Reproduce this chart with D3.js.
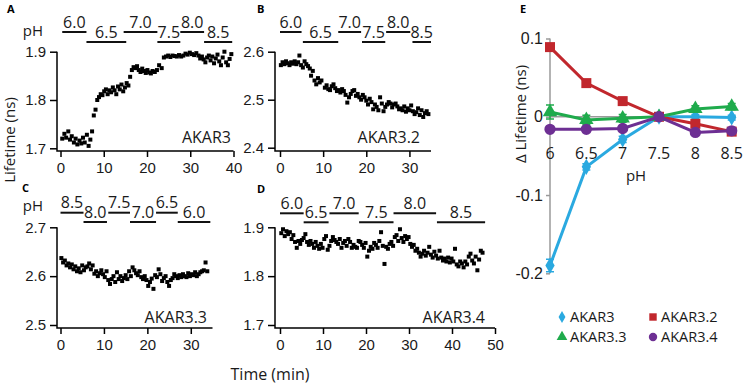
<!DOCTYPE html>
<html lang="en">
<head>
<meta charset="UTF-8">
<title>AKAR lifetime vs pH</title>
<script src="https://d3js.org/d3.v7.min.js"></script>
<style>
  body { margin: 0; background: #fff; }
  svg { display: block; font-family: "Open Sans", "DejaVu Sans", sans-serif; }
  .tick text { font-size: 15px; fill: #1a1a1a; }
  .tick line { stroke: #000; stroke-width: 1.5; }
  .gray .tick line { stroke: #9a9a9a; }
</style>
</head>
<body>
<svg id="fig" width="744" height="386"></svg>
<script>
// ---- time courses, [time (min), lifetime (ns)] ----
const traceAKAR3 = [
  [0.4,1.72],[0.9,1.73],[1.3,1.722],[1.8,1.735],[2.2,1.718],[2.6,1.725],[3.1,1.712],[3.5,1.72],[3.9,1.708],
  [4.4,1.716],[4.8,1.71],[5.2,1.722],[5.6,1.712],[6.1,1.728],[6.5,1.705],[6.9,1.718],[7.3,1.735],[7.7,1.768],
  [8.1,1.78],[8.5,1.8],[8.9,1.806],[9.3,1.812],[9.7,1.81],[10.1,1.818],[10.5,1.822],[10.9,1.812],[11.3,1.82],
  [11.7,1.816],[12.1,1.826],[12.5,1.82],[12.9,1.812],[13.3,1.828],[13.7,1.822],[14.1,1.832],[14.5,1.818],
  [14.9,1.826],[15.3,1.835],[15.7,1.83],[16.1,1.848],[16.5,1.862],[16.9,1.868],[17.3,1.866],[17.7,1.87],
  [18.1,1.862],[18.5,1.858],[18.9,1.865],[19.3,1.86],[19.7,1.856],[20.1,1.862],[20.5,1.857],[20.9,1.855],
  [21.3,1.86],[21.8,1.858],[22.3,1.862],[22.8,1.872],[23.4,1.866],[23.9,1.888],[24.4,1.89],[24.9,1.892],
  [25.4,1.889],[25.9,1.892],[26.4,1.891],[26.9,1.89],[27.4,1.893],[27.9,1.89],[28.4,1.892],[28.9,1.896],
  [29.4,1.894],[29.9,1.898],[30.4,1.895],[30.9,1.893],[31.4,1.897],[31.9,1.892],[32.3,1.886],[32.7,1.89],
  [33.1,1.884],[33.5,1.878],[33.9,1.888],[34.3,1.892],[34.7,1.882],[35.1,1.89],[35.5,1.876],[35.9,1.886],
  [36.3,1.894],[36.7,1.88],[37.1,1.872],[37.5,1.888],[37.9,1.9],[38.3,1.878],[38.7,1.872],[39.1,1.885],[39.5,1.895]
];
const traceAKAR32 = [
  [0.2,2.572],[0.6,2.578],[1.0,2.574],[1.4,2.58],[1.8,2.576],[2.2,2.572],[2.6,2.578],[3.0,2.575],[3.4,2.58],
  [3.8,2.574],[4.2,2.578],[4.5,2.592],[4.9,2.572],[5.3,2.567],[5.7,2.58],[6.1,2.574],[6.5,2.57],[6.9,2.565],
  [7.2,2.55],[7.6,2.56],[8.0,2.54],[8.4,2.532],[8.8,2.545],[9.2,2.536],[9.6,2.54],[10.4,2.525],[10.8,2.53],
  [11.2,2.522],[11.6,2.52],[12.0,2.528],[12.4,2.532],[12.8,2.524],[13.2,2.518],[13.6,2.52],[14.0,2.515],
  [14.4,2.522],[14.8,2.518],[15.2,2.51],[15.6,2.494],[16.0,2.505],[16.4,2.512],[16.8,2.518],[17.2,2.52],
  [17.6,2.508],[18.0,2.512],[18.4,2.505],[18.8,2.5],[19.2,2.51],[19.6,2.505],[20.0,2.498],[20.4,2.49],
  [20.8,2.502],[21.2,2.495],[21.6,2.48],[22.0,2.49],[22.4,2.485],[22.8,2.478],[23.2,2.505],[23.6,2.492],
  [24.0,2.476],[24.4,2.485],[24.8,2.49],[25.2,2.495],[25.6,2.492],[26.0,2.484],[26.4,2.49],[26.8,2.492],
  [27.2,2.486],[27.6,2.48],[28.0,2.482],[28.4,2.478],[28.8,2.486],[29.2,2.475],[29.6,2.482],[30.0,2.478],
  [30.4,2.488],[30.8,2.476],[31.2,2.47],[31.6,2.474],[32.0,2.482],[32.4,2.468],[32.8,2.478],[33.2,2.464],
  [33.6,2.472],[34.0,2.476],[34.4,2.47]
];
const traceAKAR33 = [
  [0.2,2.637],[0.6,2.628],[1.0,2.632],[1.4,2.622],[1.8,2.626],[2.2,2.618],[2.6,2.624],[3.0,2.614],[3.4,2.62],
  [3.8,2.61],[4.2,2.616],[4.6,2.608],[5.0,2.622],[5.4,2.612],[5.8,2.618],[6.2,2.62],[6.6,2.626],[7.0,2.614],
  [7.4,2.622],[7.8,2.605],[8.2,2.61],[8.6,2.6],[9.0,2.606],[9.4,2.612],[9.8,2.604],[10.2,2.598],[10.6,2.61],
  [11.0,2.592],[11.4,2.584],[11.8,2.594],[12.2,2.6],[12.6,2.588],[13.0,2.608],[13.4,2.594],[13.8,2.6],
  [14.2,2.59],[14.6,2.596],[15.0,2.602],[15.4,2.594],[15.8,2.61],[16.2,2.6],[16.6,2.618],[17.0,2.612],
  [17.4,2.606],[17.8,2.602],[18.2,2.61],[18.6,2.598],[19.0,2.594],[19.4,2.6],[19.8,2.592],[20.2,2.58],
  [20.6,2.588],[21.0,2.595],[21.4,2.574],[21.8,2.602],[22.2,2.598],[22.6,2.614],[23.0,2.604],[23.4,2.59],
  [23.8,2.596],[24.2,2.6],[24.6,2.588],[25.0,2.58],[25.4,2.592],[25.8,2.596],[26.2,2.604],[26.6,2.6],
  [27.0,2.596],[27.4,2.602],[27.8,2.598],[28.2,2.604],[28.6,2.6],[29.0,2.598],[29.4,2.606],[29.8,2.6],
  [30.2,2.604],[30.6,2.602],[31.0,2.608],[31.4,2.6],[31.8,2.604],[32.2,2.608],[32.6,2.61],[33.0,2.612],
  [33.4,2.628],[33.8,2.61]
];
const traceAKAR34 = [
  [0.3,1.888],[0.7,1.896],[1.1,1.882],[1.5,1.892],[1.9,1.886],[2.3,1.89],[2.7,1.876],[3.1,1.884],[3.5,1.87],
  [3.9,1.858],[4.3,1.872],[4.7,1.866],[5.1,1.874],[5.5,1.878],[5.9,1.886],[6.3,1.87],[6.7,1.864],[7.1,1.872],
  [7.5,1.866],[7.9,1.858],[8.3,1.87],[8.7,1.862],[9.1,1.856],[9.5,1.866],[9.9,1.858],[10.3,1.876],[10.7,1.882],
  [11.1,1.854],[11.5,1.862],[11.9,1.872],[12.3,1.88],[12.7,1.874],[13.1,1.87],[13.5,1.866],[13.9,1.876],
  [14.3,1.858],[14.7,1.868],[15.1,1.872],[15.5,1.862],[15.9,1.876],[16.3,1.87],[16.7,1.858],[17.1,1.864],
  [17.5,1.86],[17.9,1.858],[18.3,1.872],[18.7,1.87],[19.1,1.864],[19.5,1.858],[19.9,1.868],[20.3,1.84],
  [20.7,1.852],[21.1,1.86],[21.5,1.856],[21.9,1.868],[22.3,1.864],[22.7,1.858],[23.1,1.872],[23.5,1.89],
  [23.9,1.862],[24.3,1.825],[24.7,1.86],[25.1,1.856],[25.5,1.866],[25.9,1.87],[26.3,1.862],[26.7,1.88],
  [27.1,1.884],[27.5,1.872],[27.9,1.896],[28.3,1.878],[28.7,1.87],[29.1,1.882],[29.5,1.876],[29.9,1.88],
  [30.3,1.866],[30.7,1.86],[31.1,1.864],[31.5,1.852],[31.9,1.856],[32.3,1.848],[32.7,1.84],[33.1,1.846],
  [33.5,1.852],[33.9,1.842],[34.3,1.848],[34.7,1.86],[35.1,1.844],[35.5,1.838],[35.9,1.85],[36.3,1.842],
  [36.7,1.836],[37.1,1.852],[37.5,1.838],[37.9,1.832],[38.3,1.836],[38.7,1.83],[39.1,1.838],[39.5,1.828],
  [39.9,1.836],[40.3,1.83],[40.7,1.856],[41.1,1.824],[41.5,1.82],[41.9,1.83],[42.3,1.826],[42.7,1.818],
  [43.1,1.83],[43.5,1.824],[43.9,1.84],[44.3,1.846],[44.7,1.832],[45.1,1.826],[45.5,1.84],[45.9,1.812],
  [46.3,1.834],[46.7,1.852],[47.1,1.848]
];

// ---- pH perfusion periods (label, start min, end min) ----
const phLabelsA = ["6.0", "6.5", "7.0", "7.5", "8.0", "8.5"];
const phStartA  = [0.4, 6.0, 14.6, 22.4, 27.7, 33.2];
const phEndA    = [6.0, 15.2, 22.4, 27.7, 33.2, 39.7];
const phLabelsB = ["6.0", "6.5", "7.0", "7.5", "8.0", "8.5"];
const phStartB  = [0.0, 5.3, 13.5, 19.0, 24.6, 30.7];
const phEndB    = [5.0, 13.5, 18.8, 24.4, 30.2, 35.0];
const phLabelsC = ["8.5", "8.0", "7.5", "7.0", "6.5", "6.0"];
const phStartC  = [0.0, 5.3, 11.0, 16.0, 22.0, 27.0];
const phEndC    = [5.3, 10.7, 16.0, 22.0, 27.0, 34.5];
const phLabelsD = ["6.0", "6.5", "7.0", "7.5", "8.0", "8.5"];
const phStartD  = [0.0, 5.5, 11.5, 18.4, 26.4, 36.5];
const phEndD    = [5.5, 11.3, 18.3, 26.4, 36.3, 47.7];

// ---- panel E: change in lifetime vs pH ----
const phValues = [6, 6.5, 7, 7.5, 8, 8.5];
const sensorNames = ["AKAR3", "AKAR3.2", "AKAR3.3", "AKAR3.4"];
const dAKAR3  = [-0.19, -0.064, -0.029, 0, 0, -0.001];
const dAKAR32 = [0.089, 0.043, 0.02, 0, -0.009, -0.019];
const dAKAR33 = [0.006, -0.004, -0.002, 0, 0.01, 0.013];
const dAKAR34 = [-0.016, -0.016, -0.015, 0, -0.02, -0.018];
const eAKAR3  = [0.008, 0.004, 0.004, 0, 0.003, 0.003];
const eAKAR32 = [0.004, 0.004, 0.003, 0, 0.003, 0.003];
const eAKAR33 = [0.009, 0.006, 0.005, 0, 0.004, 0.004];
const eAKAR34 = [0.003, 0.003, 0.003, 0, 0.003, 0.003];

const svg = d3.select("#fig");
const fmt1 = d3.format(".1f");
const ink = "#1a1a1a";

// layout of the four time-course panels
const panels = [
  {letter: "A", lx: 7, ly: 13, data: traceAKAR3, name: "AKAR3",
   ph: [phLabelsA, phStartA, phEndA], barY: [32, 42], pH: 36,
   xr: [60.5, 233.5], xd: [0, 40], xt: [0, 10, 20, 30, 40], axX: 57, axY: 151,
   yd: [1.7, 1.9], yr: [148.3, 51.7], nameAt: [231, 143]},
  {letter: "B", lx: 257, ly: 13, data: traceAKAR32, name: "AKAR3.2",
   ph: [phLabelsB, phStartB, phEndB], barY: [32, 42], pH: null,
   xr: [280, 431], xd: [0, 35], xt: [0, 10, 20, 30], axX: 275, axY: 151,
   yd: [2.4, 2.6], yr: [147.7, 51.7], nameAt: [420, 143]},
  {letter: "C", lx: 22, ly: 192, data: traceAKAR33, name: "AKAR3.3",
   ph: [phLabelsC, phStartC, phEndC], barY: [212.7, 222], pH: 211,
   xr: [60.5, 212.5], xd: [0, 35], xt: [0, 10, 20, 30], axX: 57, axY: 328,
   yd: [2.5, 2.7], yr: [325, 227.3], nameAt: [207, 323]},
  {letter: "D", lx: 257, ly: 193, data: traceAKAR34, name: "AKAR3.4",
   ph: [phLabelsD, phStartD, phEndD], barY: [213.3, 222.3], pH: null,
   xr: [280, 495], xd: [0, 50], xt: [0, 10, 20, 30, 40, 50], axX: 275, axY: 328,
   yd: [1.7, 1.9], yr: [325, 227.3], nameAt: [485, 323]}
];

panels.forEach(p => {
  const g = svg.append("g");
  const x = d3.scaleLinear().domain(p.xd).range(p.xr);
  const y = d3.scaleLinear().domain(p.yd).range(p.yr);

  g.append("text").attr("x", p.lx).attr("y", p.ly)
    .attr("font-size", 11).attr("font-weight", "bold").text(p.letter);

  // axes
  g.append("g").attr("transform", `translate(0,${p.axY})`)
    .call(d3.axisBottom(x).tickValues(p.xt).tickSize(6).tickPadding(5).tickSizeOuter(0))
    .call(a => a.select(".domain").remove());
  g.append("g").attr("transform", `translate(${p.axX},0)`)
    .call(d3.axisLeft(y).tickValues(d3.range(3).map(i => p.yd[0] + i * 0.1))
      .tickFormat(fmt1).tickSize(7).tickPadding(4).tickSizeOuter(0))
    .call(a => a.select(".domain").remove());
  g.append("path")
    .attr("d", `M${p.axX},${p.yr[1]}V${p.axY}H${p.xr[1]}`)
    .attr("fill", "none").attr("stroke", "#000").attr("stroke-width", 1.5);

  // points
  g.append("g").selectAll("rect").data(p.data).join("rect")
    .attr("x", d => x(d[0]) - 2).attr("y", d => y(d[1]) - 2)
    .attr("width", 4).attr("height", 4).attr("fill", "#000");

  // sensor name
  g.append("text").attr("x", p.nameAt[0]).attr("y", p.nameAt[1])
    .attr("text-anchor", "end").attr("font-size", 16).attr("fill", ink).text(p.name);

  // pH perfusion bars
  const [labs, st, en] = p.ph;
  labs.forEach((lab, i) => {
    const by = p.barY[i % 2];
    g.append("line").attr("x1", x(st[i])).attr("x2", x(en[i]))
      .attr("y1", by).attr("y2", by).attr("stroke", "#111").attr("stroke-width", 2);
    g.append("text").attr("x", (x(st[i]) + x(en[i])) / 2).attr("y", by - 4.5)
      .attr("text-anchor", "middle").attr("font-size", 16).attr("fill", ink).text(lab);
  });
  if (p.pH !== null) {
    g.append("text").attr("x", 43).attr("y", p.pH).attr("text-anchor", "end")
      .attr("font-size", 15).attr("fill", ink).text("pH");
  }
});

svg.append("text").attr("transform", "translate(15,140) rotate(-90)")
  .attr("text-anchor", "middle").attr("font-size", 15).attr("fill", ink).text("Lifetime (ns)");
svg.append("text").attr("x", 270).attr("y", 380)
  .attr("text-anchor", "middle").attr("font-size", 16).attr("fill", ink).text("Time (min)");

// ---- panel E ----
const colors = ["#2aa9e0", "#c1272d", "#1fab4c", "#6d2f93"];
const shapes = [d3.symbolDiamond, d3.symbolSquare, d3.symbolTriangle, d3.symbolCircle];
const sizes = [75, 100, 90, 100];
const seriesE = [dAKAR3, dAKAR32, dAKAR33, dAKAR34];
const errE = [eAKAR3, eAKAR32, eAKAR33, eAKAR34];

const xE = d3.scaleLinear().domain([6, 8.5]).range([550, 731.7]);
const yE = d3.scaleLinear().domain([-0.2, 0.1]).range([273.3, 38.5]);
const gE = svg.append("g");

gE.append("text").attr("x", 520).attr("y", 13)
  .attr("font-size", 11).attr("font-weight", "bold").text("E");

gE.append("g").attr("class", "gray").attr("transform", "translate(550,0)")
  .call(d3.axisLeft(yE).tickValues([0.1, 0, -0.1, -0.2])
    .tickFormat(d => d === 0 ? "0" : fmt1(d).replace("\u2212", "-")).tickSize(4).tickPadding(3).tickSizeOuter(0))
  .call(a => a.select(".domain").remove())
  .call(a => a.selectAll(".tick text").style("font-size", "16px"));
gE.append("line").attr("x1", 550).attr("x2", 550).attr("y1", yE(0.1)).attr("y2", yE(-0.2))
  .attr("stroke", "#9a9a9a").attr("stroke-width", 1.5);
gE.append("line").attr("x1", 550).attr("x2", 736).attr("y1", yE(0)).attr("y2", yE(0))
  .attr("stroke", "#9a9a9a").attr("stroke-width", 1.5);

gE.append("g").selectAll("text").data(phValues).join("text")
  .attr("x", d => xE(d)).attr("y", 159).attr("text-anchor", "middle")
  .attr("font-size", 16).attr("fill", ink).text(d => d);
gE.append("text").attr("x", 636).attr("y", 181).attr("text-anchor", "middle")
  .attr("font-size", 15).attr("fill", ink).text("pH");
gE.append("text").attr("transform", "translate(526,114) rotate(-90)")
  .attr("text-anchor", "middle").attr("font-size", 15).attr("fill", ink).text("\u0394 Lifetime (ns)");

const lineE = d3.line().x((d, i) => xE(phValues[i])).y(d => yE(d));
seriesE.forEach((s, k) => {
  const gs = gE.append("g");
  gs.append("path").datum(s).attr("d", lineE)
    .attr("fill", "none").attr("stroke", colors[k]).attr("stroke-width", 3);
  gs.selectAll("line.err").data(s).join("line").attr("class", "err")
    .attr("x1", (d, i) => xE(phValues[i])).attr("x2", (d, i) => xE(phValues[i]))
    .attr("y1", (d, i) => yE(d + errE[k][i])).attr("y2", (d, i) => yE(d - errE[k][i]))
    .attr("stroke", colors[k]).attr("stroke-width", 1.5);
  gs.selectAll("path.cap").data(s).join("path").attr("class", "cap")
    .attr("d", (d, i) => {
      const cx = xE(phValues[i]);
      return `M${cx - 4},${yE(d + errE[k][i])}h8M${cx - 4},${yE(d - errE[k][i])}h8`;
    })
    .attr("stroke", colors[k]).attr("stroke-width", 1.5);
  gs.selectAll("path.mk").data(s).join("path").attr("class", "mk")
    .attr("transform", (d, i) => `translate(${xE(phValues[i])},${yE(d)})`)
    .attr("d", d3.symbol().type(shapes[k]).size(sizes[k]))
    .attr("fill", colors[k]);
});

// legend
const legPos = [[562, 317], [653, 317], [562, 337], [653, 337]];
sensorNames.forEach((n, k) => {
  gE.append("path").attr("transform", `translate(${legPos[k][0]},${legPos[k][1]})`)
    .attr("d", d3.symbol().type(shapes[k]).size(sizes[k] * 0.55)).attr("fill", colors[k]);
  gE.append("text").attr("x", legPos[k][0] + 8).attr("y", legPos[k][1] + 5)
    .attr("font-size", 14.5).attr("fill", ink).text(n);
});
</script>
</body>
</html>
